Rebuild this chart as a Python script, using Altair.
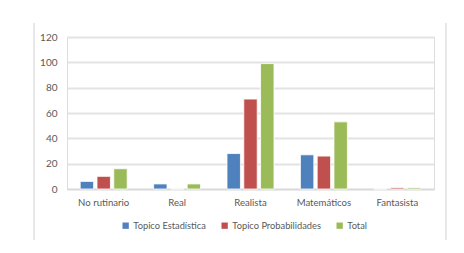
import altair as alt
import pandas as pd

categories = ["No rutinario", "Real", "Realista", "Matemáticos", "Fantasista"]
series = ["Topico Estadística", "Topico Probabilidades", "Total"]
estadistica = [6, 4, 28, 27, 0]
probabilidades = [10, 0, 71, 26, 1]
total = [16, 4, 99, 53, 1]
colors = ["#4F81BD", "#C0504D", "#9BBB59"]

rows = []
for i, c in enumerate(categories):
    for s, vals in zip(series, [estadistica, probabilidades, total]):
        rows.append({"cat": c, "serie": s, "valor": vals[i]})
df = pd.DataFrame(rows)

font = "Lato"

bars = alt.Chart(df).mark_bar(stroke="white", strokeWidth=0.8).encode(
    x=alt.X("cat:N", sort=categories, title=None,
            scale=alt.Scale(paddingInner=0.36, paddingOuter=0.18),
            axis=alt.Axis(labelAngle=0, labelFontSize=9.6, labelColor="#595959", labelFont=font,
                          ticks=False, domainColor="#D9D9D9", domainWidth=1.5, labelPadding=8)),
    xOffset=alt.XOffset("serie:N", sort=series, scale=alt.Scale(paddingInner=0.2)),
    y=alt.Y("valor:Q", title=None,
            scale=alt.Scale(domain=[0, 120]),
            axis=alt.Axis(values=[0, 20, 40, 60, 80, 100, 120], labelFontSize=10, labelColor="#595959",
                          labelFont=font, ticks=False, domain=False, labelPadding=10,
                          gridColor="#E3E3E3", gridWidth=2)),
    color=alt.Color("serie:N", sort=series, scale=alt.Scale(domain=series, range=colors),
                    legend=alt.Legend(title=None, orient="none", direction="horizontal",
                                      legendX=54, legendY=184, symbolType="square", symbolSize=40,
                                      labelFontSize=9.3, labelColor="#595959", labelFont=font,
                                      labelOffset=3, columnPadding=14, symbolStrokeWidth=0)),
)

borders = pd.DataFrame({"xpx": [-33, 379]})
frame = alt.Chart(borders).mark_rule(color="#D9D9D9", strokeWidth=1.2).encode(
    x=alt.X("xpx:Q", scale=None),
    y=alt.value(-14),
    y2=alt.value(203),
)

chart = alt.layer(bars, frame).properties(
    width=367, height=152,
    autosize=alt.AutoSizeParams(type="none"),
    padding={"left": 67, "top": 37, "right": 30, "bottom": 64},
).configure_view(stroke=None).configure(background="white")

chart.save("out.html", embed_options={"renderer": "svg", "actions": False})
